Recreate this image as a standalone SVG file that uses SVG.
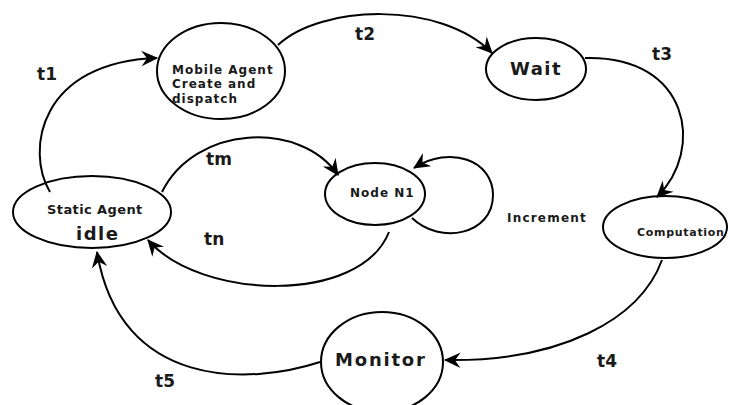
<svg xmlns="http://www.w3.org/2000/svg" width="730" height="405" viewBox="0 0 730 405">
<style>
.node{fill:#fff;stroke:#000;stroke-width:2}
.edge{fill:none;stroke:#000;stroke-width:2}
text{font-family:"DejaVu Sans",sans-serif;font-weight:bold;fill:#1a1a1a}
.lbl{font-size:17px}
</style>
<defs>
<marker id="arr" markerUnits="userSpaceOnUse" markerWidth="20" markerHeight="20" viewBox="-16 -8 18 16" refX="0" refY="0" orient="auto">
<path d="M1,0 L-14,-7 L-9,0 L-14,7 Z" fill="#000"/>
</marker>
</defs>
<rect width="730" height="405" fill="#fff"/>
<g id="mobile"><ellipse class="node" cx="221" cy="71" rx="64" ry="48"/>
<text x="172" y="74" font-size="12" letter-spacing="1">Mobile Agent</text>
<text x="172" y="88" font-size="12" letter-spacing="1">Create and</text>
<text x="172" y="103" font-size="12" letter-spacing="1">dispatch</text></g>
<g id="wait"><ellipse class="node" cx="536" cy="69" rx="50" ry="31"/>
<text x="510" y="75" font-size="18" letter-spacing="1.5">Wait</text></g>
<g id="static"><ellipse class="node" cx="92" cy="212" rx="79" ry="36"/>
<text x="47" y="214" font-size="13" letter-spacing="0.4">Static Agent</text>
<text x="76" y="240" font-size="18" letter-spacing="1.5">idle</text></g>
<g id="node1"><ellipse class="node" cx="375" cy="194" rx="50" ry="31"/>
<text x="350" y="197" font-size="12" letter-spacing="1">Node N1</text></g>
<g id="computation"><ellipse class="node" cx="665" cy="227" rx="62" ry="31"/>
<text x="637" y="236" font-size="11" letter-spacing="0.7">Computation</text></g>
<g id="monitor"><ellipse class="node" cx="382" cy="362" rx="61" ry="50"/>
<text x="335" y="366" font-size="18" letter-spacing="1.8">Monitor</text></g>
<g id="connectors">
<path class="edge" d="M50,192 C25,150 40,62 157,58" marker-end="url(#arr)"/>
<path class="edge" d="M278,45 C320,5 440,0 492,53" marker-end="url(#arr)"/>
<path class="edge" d="M585,58 C690,55 705,150 657,197" marker-end="url(#arr)"/>
<path class="edge" d="M662,260 C640,320 560,362 445,360" marker-end="url(#arr)"/>
<path class="edge" d="M320,362 C250,385 120,390 97,252" marker-end="url(#arr)"/>
<path class="edge" d="M162,192 C195,125 300,120 338,175" marker-end="url(#arr)"/>
<path class="edge" d="M389,232 C360,305 200,300 148,240" marker-end="url(#arr)"/>
<path class="edge" d="M412,218 C440,245 493,235 493,195 C493,160 450,145 414,168" marker-end="url(#arr)"/>
</g>
<g id="labels">
<text class="lbl" x="37" y="80">t1</text>
<text class="lbl" x="355" y="40">t2</text>
<text class="lbl" x="652" y="60">t3</text>
<text class="lbl" x="597" y="367">t4</text>
<text class="lbl" x="155" y="387">t5</text>
<text class="lbl" x="206" y="165">tm</text>
<text class="lbl" x="204" y="245">tn</text>
<text x="507" y="222" font-size="12" letter-spacing="1.2">Increment</text>
</g>
</svg>
